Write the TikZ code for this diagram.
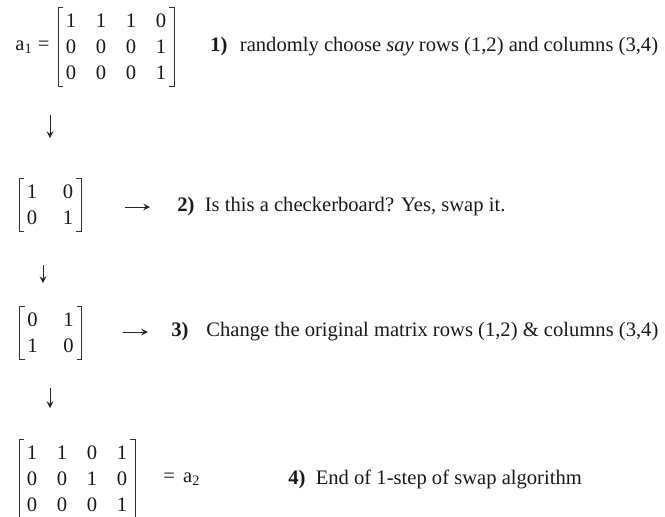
\documentclass[tikz,border=0pt]{standalone}
\usepackage{fontspec}
\setmainfont{Liberation Serif}
\usetikzlibrary{matrix,positioning,arrows}

\begin{document}
\begin{tikzpicture}[x=0.5pt,y=-0.5pt,
  every node/.style={font=\fontsize{10.3pt}{12pt}\selectfont, text=black!90},
  mat/.style={matrix of nodes, inner sep=0pt, outer sep=0pt,
    nodes={minimum width=15pt, minimum height=13pt, inner sep=0pt}},
  brk/.style={draw=black!80, line width=0.5pt},
  arr/.style={draw=black!85, line width=0.5pt, -stealth},
  steptext/.style={anchor=west, inner sep=0pt}]
\useasboundingbox (0,0) rectangle (665,516);

% step 1
\matrix (mA) [mat] at (116,47) {1 & 1 & 1 & 0\\ 0 & 0 & 0 & 1\\ 0 & 0 & 0 & 1\\};
\node[left=3pt of mA, inner sep=0pt] (aA) {a\textsubscript{1} =};
\node[steptext] (tA) at (210,47) {\textbf{1)}\hspace{0.6em}randomly choose \textit{say} rows (1,2) and columns (3,4)};

% step 2
\matrix (mB) [mat, column sep=3pt] at (50,205) {1 & 0\\ 0 & 1\\};
\node[steptext] (tB) at (177,207) {\textbf{2)}\hspace{0.5em}Is this a checkerboard? Yes, swap it.};

% step 3
\matrix (mC) [mat, column sep=3pt] at (50.5,333) {0 & 1\\ 1 & 0\\};
\node[steptext] (nC) at (171,332) {\textbf{3)}};
\node[steptext] (tC) at (206,332) {Change the original matrix rows (1,2) \& columns (3,4)};

% step 4
\matrix (mD) [mat] at (77,479) {1 & 1 & 0 & 1\\ 0 & 0 & 1 & 0\\ 0 & 0 & 0 & 1\\};
\node[right=13pt of mD, inner sep=0pt] (aD) {=\hspace{0.4em}a\textsubscript{2}};
\node[steptext] (tD) at (288,479) {\textbf{4)}\hspace{0.5em}End of 1-step of swap algorithm};

% brackets
\foreach \m in {mA,mB,mC,mD}{
  \draw[brk] ([xshift=3.5pt]\m.north west) -- ([xshift=1pt]\m.north west) -- ([xshift=1pt]\m.south west) -- ([xshift=3.5pt]\m.south west);
  \draw[brk] ([xshift=-3.5pt]\m.north east) -- ([xshift=-1pt]\m.north east) -- ([xshift=-1pt]\m.south east) -- ([xshift=-3.5pt]\m.south east);
}

% arrows
\coordinate (dA1) at (50,115);
\coordinate (dA2) at (50,138);
\coordinate (dB1) at (43,265);
\coordinate (dB2) at (43,283);
\coordinate (dC1) at (50,388);
\coordinate (dC2) at (50,408);
\coordinate (rB1) at (125,207);
\coordinate (rB2) at (150,207);
\coordinate (rC1) at (123,332);
\coordinate (rC2) at (148,332);
\draw[arr] (dA1) -- (dA2);
\draw[arr] (dB1) -- (dB2);
\draw[arr] (dC1) -- (dC2);
\draw[arr] (rB1) -- (rB2);
\draw[arr] (rC1) -- (rC2);
\end{tikzpicture}
\end{document}
